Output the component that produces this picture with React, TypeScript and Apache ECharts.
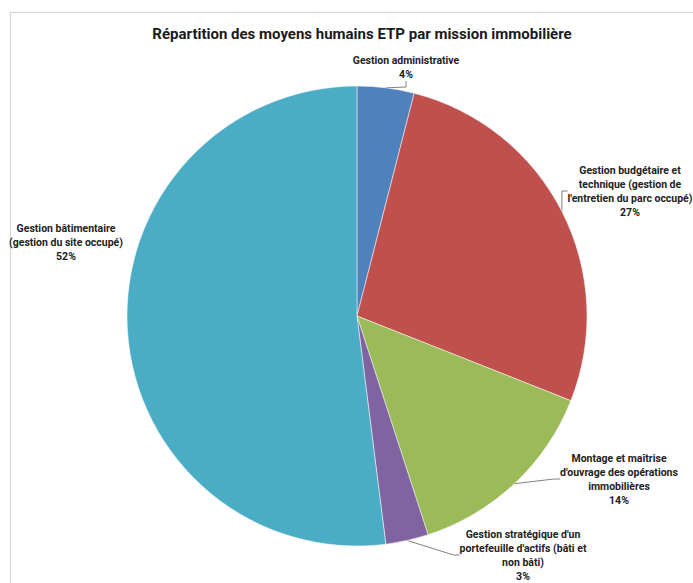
import React, { useEffect, useRef } from "react";
import * as echarts from "echarts";

const titleText = "Répartition des moyens humains ETP par mission immobilière";
const categories = [
  "Gestion administrative",
  "Gestion budgétaire et\ntechnique (gestion de\nl'entretien du parc occupé)",
  "Montage et maîtrise\nd'ouvrage des opérations\nimmobilières",
  "Gestion stratégique d'un\nportefeuille d'actifs (bâti et\nnon bâti)",
  "Gestion bâtimentaire\n(gestion du site occupé)",
];
const shares = [4, 27, 14, 3, 52];
const colors = ["#4F81BD", "#C0504D", "#9BBB59", "#8064A2", "#4BACC6"];
const showLeader = [true, true, true, true, false];

// label centre positions (layout, pixels)
const labelPos = [
  [406, 67],
  [630, 191],
  [619, 479],
  [523, 555],
  [66, 242],
];

const FONT = "Roboto, Noto Sans, sans-serif";

export default function App() {
  const ref = useRef<HTMLDivElement>(null);
  useEffect(() => {
    if (!ref.current) return;
    const chart = echarts.init(ref.current, null, { renderer: "svg" });
    chart.setOption({
      animation: false,
      backgroundColor: "#ffffff",
      title: {
        text: titleText,
        left: 357,
        textAlign: "center",
        top: 21,
        textStyle: {
          fontFamily: FONT,
          fontSize: 15,
          fontWeight: "bold",
          color: "#1a1a1a",
        },
      },
      graphic: [
        {
          type: "rect",
          shape: { x: 10.5, y: 12.5, width: 720, height: 620 },
          style: { fill: "none", stroke: "#d4d4d4", lineWidth: 1 },
          silent: true,
          z: -1,
        },
      ],
      series: [
        {
          type: "pie",
          center: [357, 316],
          radius: 230,
          startAngle: 90,
          clockwise: true,
          data: categories.map((c, i) => ({
            name: c,
            value: shares[i],
            itemStyle: { color: colors[i] },
            labelLine: { show: showLeader[i] },
          })),
          itemStyle: { borderColor: "#ffffff", borderWidth: 0.5 },
          label: {
            show: true,
            position: "outside",
            formatter: (p: any) => `${p.name}\n${p.value}%`,
            fontFamily: FONT,
            fontSize: 10.5,
            fontWeight: "bold",
            lineHeight: 14,
            color: "#222222",
            align: "center",
            overflow: "none",
          },
          labelLine: {
            show: true,
            length: 6,
            length2: 6,
            lineStyle: { color: "#808080", width: 1 },
          },
          labelLayout: (params: any) => {
            const pos = labelPos[params.dataIndex];
            return {
              x: pos[0],
              y: pos[1],
              align: "center",
              verticalAlign: "middle",
            };
          },
          emphasis: { disabled: true },
        },
      ],
    });
    return () => chart.dispose();
  }, []);
  return (
    <div
      ref={ref}
      style={{ position: "fixed", left: 0, top: 0, width: 693, height: 583 }}
    />
  );
}
